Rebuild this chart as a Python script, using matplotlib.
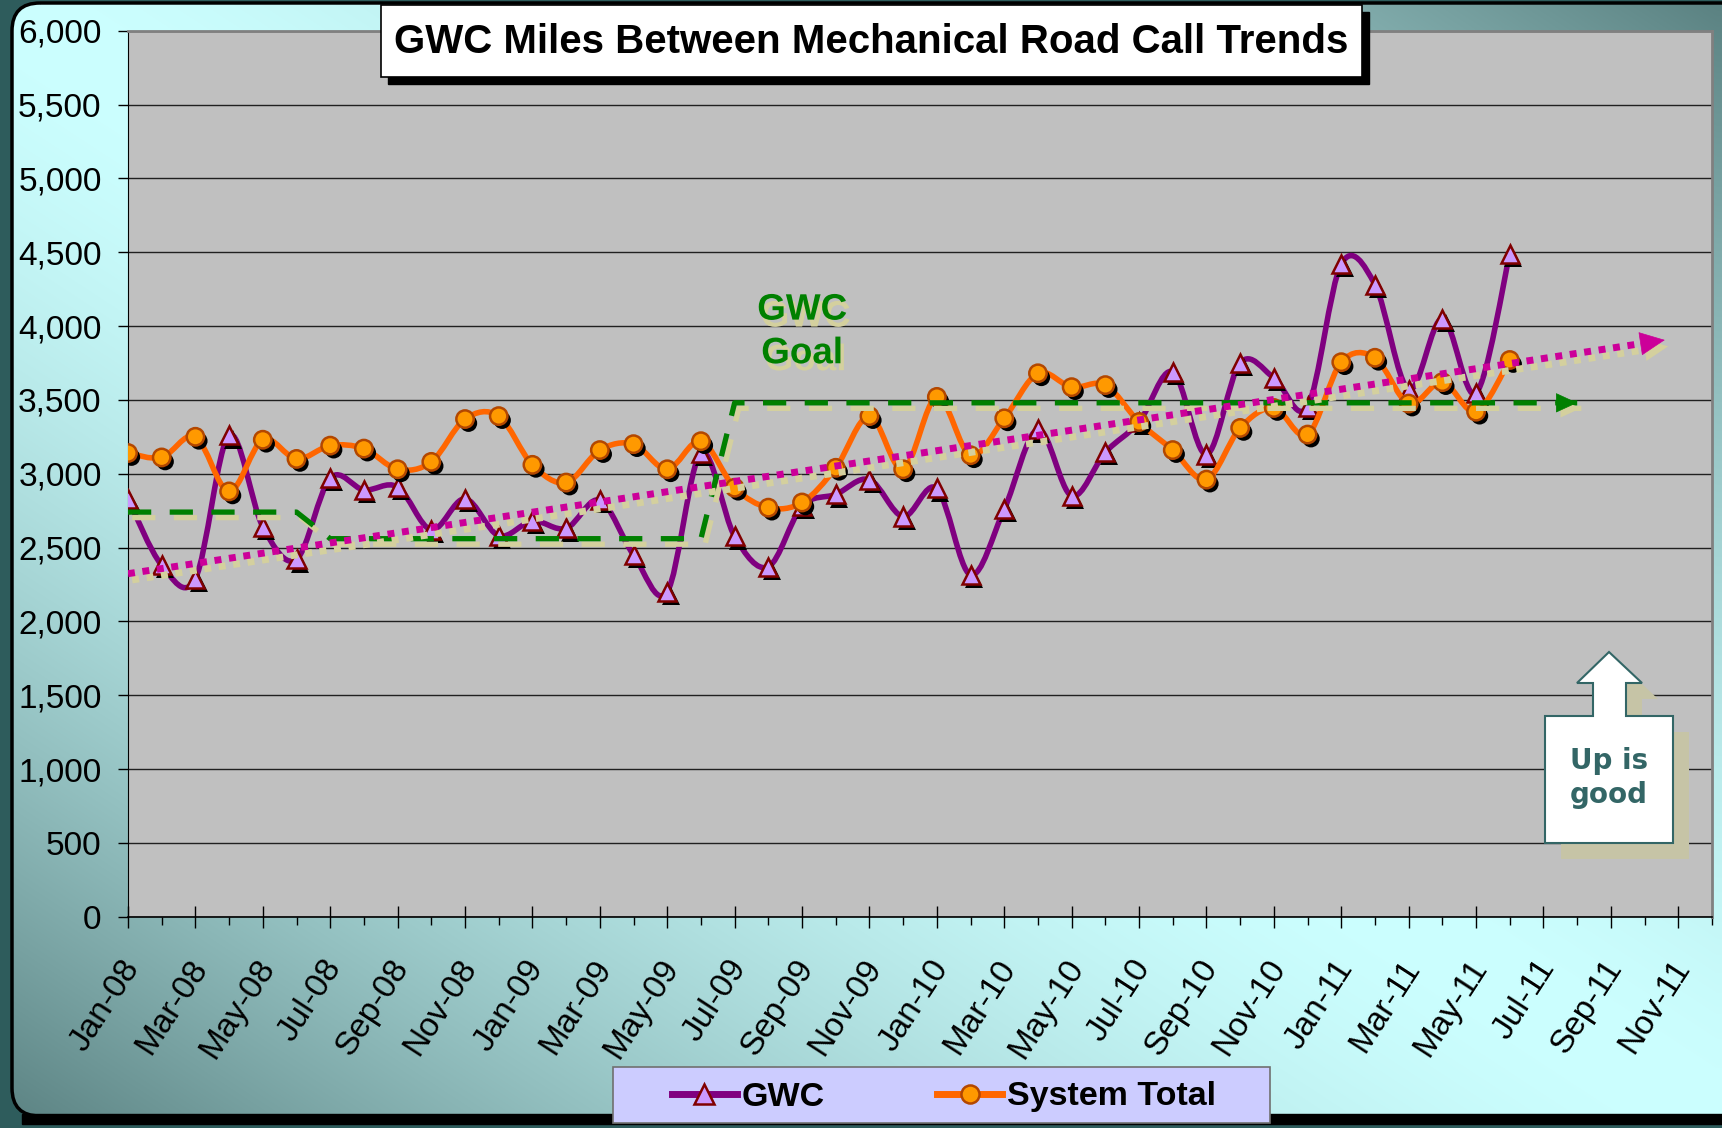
import numpy as np
import matplotlib
matplotlib.use('Agg')
import matplotlib.pyplot as plt
import matplotlib.patheffects as pe
from matplotlib.patches import FancyBboxPatch, Rectangle, Polygon, PathPatch
from matplotlib.path import Path
from matplotlib.lines import Line2D
from matplotlib.ticker import StrMethodFormatter
from matplotlib.transforms import ScaledTranslation

plt.rcParams['font.family'] = ['Liberation Sans', 'DejaVu Sans']

# Monthly values, Jan-08 .. Jun-11
gwc = [2830, 2380, 2290, 3260, 2640, 2420, 2970, 2890, 2910, 2620, 2830, 2580,
       2680, 2630, 2820, 2450, 2200, 3140, 2575, 2370, 2780, 2860, 2960, 2710,
       2900, 2315, 2760, 3300, 2850, 3145, 3350, 3690, 3130, 3750, 3650, 3455,
       4420, 4280, 3570, 4050, 3545, 4490]
system_total = [3140, 3110, 3250, 2880, 3230, 3100, 3190, 3170, 3030, 3080, 3370, 3390,
                3060, 2940, 3160, 3200, 3030, 3220, 2905, 2770, 2805, 3040, 3390, 3030,
                3520, 3125, 3375, 3680, 3586, 3600, 3350, 3160, 2960, 3310, 3445, 3265,
                3755, 3785, 3475, 3620, 3420, 3770]
# GWC goal, Jan-08 .. Aug-11
gwc_goal = [2740, 2740, 2740, 2740, 2740, 2740,
            2560, 2560, 2560, 2560, 2560, 2560, 2560, 2560, 2560, 2560, 2560, 2560,
            3480, 3480, 3480, 3480, 3480, 3480, 3480, 3480, 3480, 3480, 3480, 3480,
            3480, 3480, 3480, 3480, 3480, 3480, 3480, 3480, 3480, 3480, 3480, 3480,
            3480, 3480]
trend_end = 45.6   # forecast of the trendline, in months from Jan-08

months = ['Jan', 'Feb', 'Mar', 'Apr', 'May', 'Jun', 'Jul', 'Aug', 'Sep', 'Oct', 'Nov', 'Dec']
years = ['08', '09', '10', '11']
month_labels = [m + '-' + y for y in years for m in months]

W, H = 1722, 1128
TAN = '#D4D09E'


def smooth_path(xs, ys):
    # excel style smoothed line through the points
    pts = np.column_stack([xs, ys]).astype(float)
    n = len(pts)
    verts = [pts[0]]
    codes = [Path.MOVETO]
    for i in range(n - 1):
        p0 = pts[i - 1] if i > 0 else pts[i]
        p1 = pts[i]
        p2 = pts[i + 1]
        p3 = pts[i + 2] if i + 2 < n else pts[i + 1]
        verts += [p1 + (p2 - p0) / 6, p2 - (p3 - p1) / 6, p2]
        codes += [Path.CURVE4] * 3
    return Path(verts, codes)


fig = plt.figure(figsize=(W / 100, H / 100), dpi=100)
fig.patch.set_facecolor('#2E5C5C')

# background frame with gradient
bg = fig.add_axes([0, 0, 1, 1], zorder=-1)
u, v = np.meshgrid(np.linspace(0, 1, 173), np.linspace(0, 1, 114))
f = np.abs(u - v) ** 1.6
light = np.array([0xCC, 0xFF, 0xFF]) / 255
dark = np.array([0x5B, 0x82, 0x82]) / 255
img = light * (1 - f[..., None]) + dark * f[..., None]
im = bg.imshow(img, extent=(0, W, H, 0), interpolation='bilinear', aspect='auto', zorder=0)
frame = FancyBboxPatch((12, 3), 1800, 1113, boxstyle='round,pad=0,rounding_size=28',
                       fc='none', ec='black', lw=2.5, zorder=1)
bg.add_patch(frame)
im.set_clip_path(frame)
bg.add_patch(Rectangle((22, 1114), 1800, 10, color='black', zorder=2))
bg.set_xlim(0, W)
bg.set_ylim(H, 0)
bg.axis('off')

# main plot
ax = fig.add_axes([128 / W, 1 - 916.7 / H, 1584 / W, 886 / H])
ax.set_facecolor('#C0C0C0')
ax.set_xlim(0, 47)
ax.set_ylim(0, 6000)

x = np.arange(len(gwc))
mk_shadow = [pe.SimplePatchShadow(offset=(2.5, -3), shadow_rgbFace='black', alpha=1), pe.Normal()]

ax.add_patch(PathPatch(smooth_path(x, gwc), fill=False, ec='#800080', lw=4,
                       capstyle='round', joinstyle='round', zorder=3))
ax.plot(x, gwc, ls='none', marker='^', ms=13, mfc='#CC99FF', mec='#800000', mew=1.8,
        zorder=4, path_effects=mk_shadow)
ax.add_patch(PathPatch(smooth_path(x, system_total), fill=False, ec='#FF6600', lw=4,
                       capstyle='round', joinstyle='round', zorder=4.2))
ax.plot(x, system_total, ls='none', marker='o', ms=12.5, mfc='#FF9900', mec='#B34700', mew=1.8,
        zorder=4.5, path_effects=mk_shadow)

# goal line with arrow
gx = np.arange(len(gwc_goal))
ax.plot(gx, gwc_goal, color='#008000', lw=3.8, dashes=(4.4, 3.5), dash_capstyle='butt', zorder=5,
        path_effects=[pe.SimpleLineShadow(offset=(3, -4), shadow_color=TAN, alpha=1), pe.Normal()])
ga = ax.annotate('', xy=(gx[-1], gwc_goal[-1]), xytext=(gx[-1] - 0.65, gwc_goal[-1]),
                 arrowprops=dict(arrowstyle='-|>,head_length=0.72,head_width=0.33', mutation_scale=20,
                                 fc='#008000', ec='#008000', lw=0.5, shrinkA=0, shrinkB=0), zorder=5)
ga.arrow_patch.set_path_effects([pe.SimplePatchShadow(offset=(3, -4), shadow_rgbFace=TAN, alpha=1),
                                 pe.Normal()])

# linear trendline of GWC
coef = np.polyfit(x, gwc, 1)
tx = np.array([0, trend_end - 0.7])
ax.plot(tx, np.polyval(coef, tx), color='#CC0099', lw=5, dashes=(1, 1.1), dash_capstyle='butt',
        zorder=6, path_effects=[pe.SimpleLineShadow(offset=(3, -4.5), shadow_color=TAN, alpha=1),
                                pe.Normal()])
ta = ax.annotate('', xy=(trend_end, np.polyval(coef, trend_end)),
                 xytext=(tx[-1], np.polyval(coef, tx[-1])),
                 arrowprops=dict(arrowstyle='-|>,head_length=0.85,head_width=0.4', mutation_scale=20,
                                 fc='#CC0099', ec='#CC0099', lw=0.5, shrinkA=0, shrinkB=0), zorder=6)
ta.arrow_patch.set_path_effects([pe.SimplePatchShadow(offset=(3, -4.5), shadow_rgbFace=TAN, alpha=1),
                                 pe.Normal()])

ax.text(20, 3960, 'GWC\nGoal', color='#008000', fontsize=26.5, fontweight='bold', ha='center',
        va='center', linespacing=1.32, zorder=6,
        path_effects=[pe.SimplePatchShadow(offset=(2.5, -5), shadow_rgbFace=TAN, alpha=1), pe.Normal()])

# axes styling
ax.set_yticks(np.arange(0, 6001, 500))
ax.yaxis.set_major_formatter(StrMethodFormatter('{x:,.0f}'))
ax.tick_params(axis='y', direction='out', length=7, width=1, pad=12, labelsize=24)
ax.set_xticks(np.arange(0, 48, 2))
ax.set_xticklabels(month_labels[::2], rotation=57, ha='right', va='center', rotation_mode='anchor')
ax.set_xticks(np.arange(1, 48, 2), minor=True)
ax.tick_params(axis='x', which='major', direction='inout', length=16, width=1, pad=25, labelsize=24)
ax.tick_params(axis='x', which='minor', direction='out', length=6, width=1)
for lbl in ax.get_xticklabels():
    lbl.set_transform(lbl.get_transform() + ScaledTranslation(3.5 / 72, 0, fig.dpi_scale_trans))
ax.grid(axis='y', color='#202020', lw=1)
ax.set_axisbelow(True)
ax.spines['left'].set_color('black')
ax.spines['bottom'].set_color('black')
ax.spines['bottom'].set_linewidth(1.2)
for s in ['top', 'right']:
    ax.spines[s].set_color('#808080')
    ax.spines[s].set_linewidth(2)

# overlay: title, callout, legend
ov = fig.add_axes([0, 0, 1, 1], zorder=10)
ov.set_xlim(0, W)
ov.set_ylim(H, 0)
ov.axis('off')
ov.patch.set_alpha(0)

ov.add_patch(Rectangle((388, 12), 981, 72, color='black'))
ov.add_patch(Rectangle((381, 5), 981, 72, fc='white', ec='black', lw=1.2))
ov.text(871, 42, 'GWC Miles Between Mechanical Road Call Trends', fontsize=29, fontweight='bold',
        ha='center', va='center')

arrow_box = [(1545, 843), (1673, 843), (1673, 716), (1626, 716), (1626, 683), (1642, 683),
             (1609, 652), (1577, 683), (1593, 683), (1593, 716), (1545, 716)]
ov.add_patch(Polygon([(px + 16, py + 16) for px, py in arrow_box], closed=True, fc='#C6C4A6', ec='none'))
ov.add_patch(Polygon(arrow_box, closed=True, fc='white', ec='#336666', lw=1.5))
ov.text(1609, 778, 'Up is\ngood', family='DejaVu Sans', fontsize=20, fontweight='bold',
        color='#336666', ha='center', va='center', linespacing=1.3)

ov.add_patch(Rectangle((613, 1067), 657, 56, fc='#CCCCFF', ec='#707070', lw=1.2))
h1 = Line2D([], [], color='#800080', lw=5, marker='^', ms=14, mfc='#CC99FF', mec='#800000', mew=1.8)
h2 = Line2D([], [], color='#FF6600', lw=5, marker='o', ms=13, mfc='#FF9900', mec='#B34700', mew=1.8)
ov.legend([h1, h2], ['GWC', 'System Total'], loc='center', bbox_to_anchor=(944, 1097),
          bbox_transform=ov.transData, ncol=2, frameon=False,
          prop=dict(weight='bold', size=24.5),
          handlelength=1.9, handletextpad=0.15, columnspacing=3.3)

fig.savefig('out.png', dpi=100, facecolor=fig.get_facecolor())
